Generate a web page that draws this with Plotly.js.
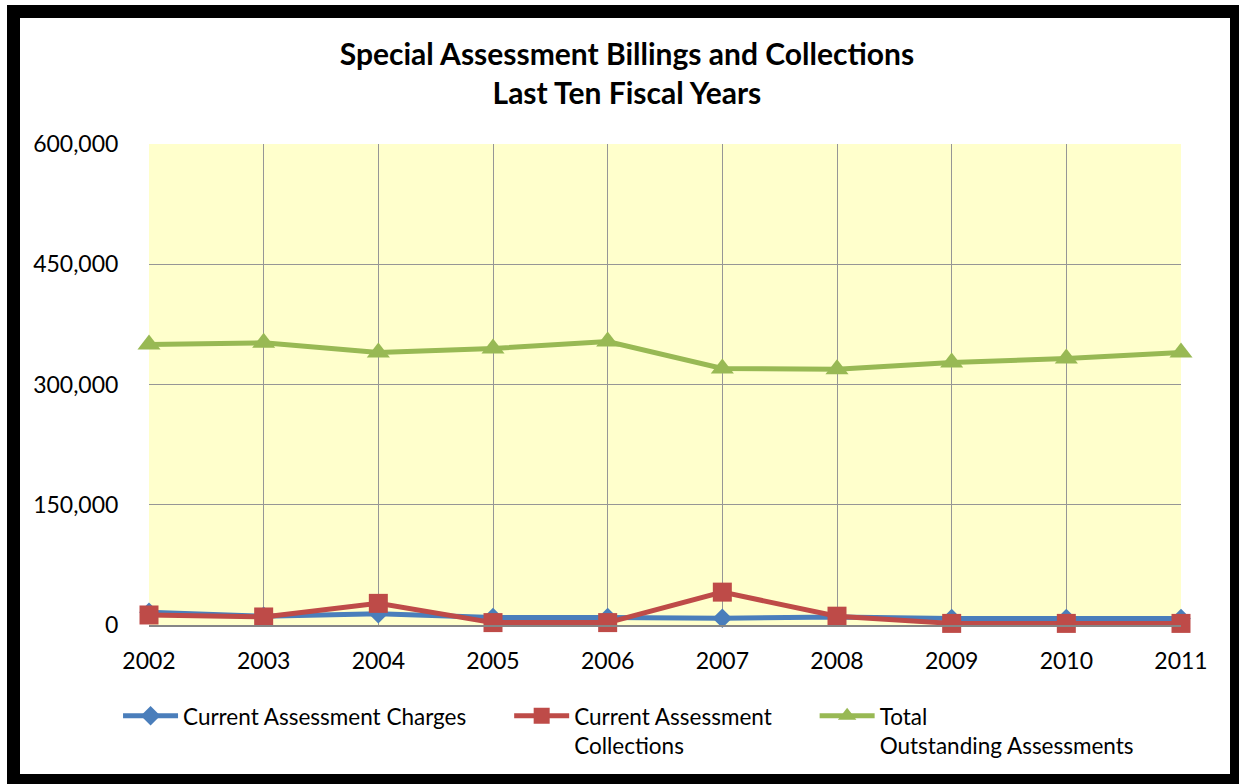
<!DOCTYPE html>
<html>
<head>
<meta charset="utf-8">
<script src="https://cdn.plot.ly/plotly-3.0.1.min.js"></script>
<style>
html,body{margin:0;padding:0;background:#fff;overflow:hidden;width:1239px;height:784px;}
#frame{position:absolute;left:7px;top:5px;width:1210px;height:756px;border:13px solid #000;box-sizing:content-box;pointer-events:none;z-index:10;}
#chart{position:absolute;left:0;top:0;width:1239px;height:784px;}
</style>
</head>
<body>
<div id="chart"></div>
<div id="frame"></div>
<script>
const years = ['2002','2003','2004','2005','2006','2007','2008','2009','2010','2011'];
const charges = [16000, 11000, 14000, 9500, 9500, 8500, 10000, 8000, 8000, 8000];
const collections = [12500, 10000, 27000, 3000, 3000, 41000, 11000, 2000, 2000, 2000];
const outstanding = [350000, 352000, 340000, 345000, 353500, 320000, 319000, 327500, 332500, 340000];
const yTicks = [0, 150000, 300000, 450000, 600000];
const names = ['Current Assessment Charges', 'Current Assessment<br>Collections', 'Total<br>Outstanding Assessments'];

const FONT = 'Lato, "Open Sans", sans-serif';

const traces = [
  {x: years, y: charges, name: names[0], type: 'scatter', mode: 'lines+markers', cliponaxis: false,
   line: {color: '#4A7EBB', width: 5}, marker: {symbol: 'diamond', size: 15, color: '#4A7EBB'}, legend: 'legend'},
  {x: years, y: collections, name: names[1], type: 'scatter', mode: 'lines+markers', cliponaxis: false,
   line: {color: '#BE4B48', width: 5}, marker: {symbol: 'square', size: 19, color: '#BE4B48'}, legend: 'legend2'},
  {x: years, y: outstanding, name: names[2], type: 'scatter', mode: 'lines+markers', cliponaxis: false,
   line: {color: '#98B954', width: 5}, marker: {symbol: 'triangle-up', size: 20, color: '#98B954'}, legend: 'legend3'}
];

const legBase = {orientation: 'h', yanchor: 'top', xanchor: 'left', valign: 'top', itemwidth: 55,
  font: {family: FONT, size: 22.5, color: '#000'}, bgcolor: 'rgba(0,0,0,0)', tracegroupgap: 0};

const layout = {
  width: 1239, height: 784,
  paper_bgcolor: '#ffffff', plot_bgcolor: '#FFFFCC',
  margin: {l: 149, r: 58, t: 144, b: 159, pad: 0},
  title: {text: '<b>Special Assessment Billings and Collections</b><br><b>Last Ten Fiscal Years</b>',
    font: {family: FONT, size: 30, color: '#000'}, xref: 'container', x: 0.506, xanchor: 'center',
    yref: 'container', y: 1 - 65/784, yanchor: 'top'},
  xaxis: {type: 'category', range: [0, 9], showgrid: true, gridcolor: '#969696', gridwidth: 1,
    showline: true, linecolor: '#868686', linewidth: 2, mirror: false,
    ticks: 'outside', ticklen: 14, tickcolor: 'rgba(0,0,0,0)',
    tickfont: {family: FONT, size: 23, color: '#000'}, fixedrange: true},
  yaxis: {range: [0, 600000], tickvals: yTicks, tickformat: ',d', showgrid: true, gridcolor: '#969696', gridwidth: 1,
    zeroline: false, showline: false,
    ticks: 'outside', ticklen: 25, tickcolor: 'rgba(0,0,0,0)',
    tickfont: {family: FONT, size: 23, color: '#000'}, fixedrange: true},
  showlegend: true,
  legend: Object.assign({}, legBase, {x: -0.03, y: -0.145}),
  legend2: Object.assign({}, legBase, {x: 0.349, y: -0.145}),
  legend3: Object.assign({}, legBase, {x: 0.645, y: -0.145})
};

Plotly.newPlot('chart', traces, layout, {displayModeBar: false, staticPlot: true});
</script>
</body>
</html>
